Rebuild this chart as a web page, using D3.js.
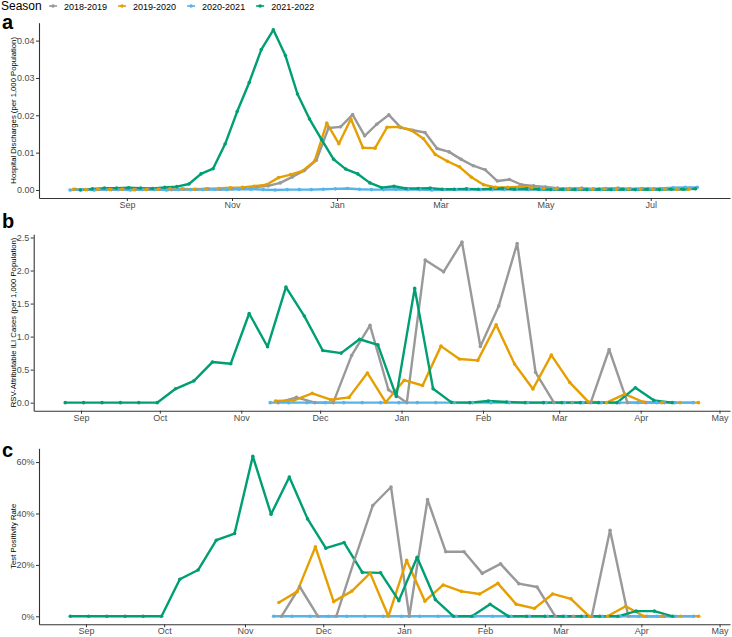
<!DOCTYPE html>
<html>
<head>
<meta charset="utf-8">
<script src="https://cdn.jsdelivr.net/npm/d3@7"></script>
<style>
  body { margin: 0; background: #fff; }
  svg { display: block; font-family: "Liberation Sans", Arial, sans-serif; }
</style>
</head>
<body>
<svg id="chart" width="732" height="637"></svg>
<script>
// seasons and colours (Okabe-Ito)
var seasons = ["2018-2019", "2019-2020", "2020-2021", "2021-2022"];
var colors = ["#999999", "#E69F00", "#56B4E9", "#009E73"];

// panel a: hospital discharges, weekly, dates mapped onto the 2019-2020 season
var hospStart = ["2019-08-02", "2019-08-01", "2019-07-30", "2019-08-05"];
var hosp1819 = [0.0002,0.0001,0.0002,0.0001,0.0002,0.0001,0.0002,0.0002,0.0001,0.0002,0.0002,0.0003,0.0002,0.0003,0.0004,
  0.0008,0.0011,0.0019,0.0035,0.0052,0.0080,0.0166,0.0169,0.0202,0.0145,0.0176,0.0201,0.0167,0.0160,0.0154,0.0111,
  0.0102,0.0082,0.0065,0.0054,0.0024,0.0028,0.0014,0.0011,0.0008,
  0.0005,0.0004,0.0005,0.0003,0.0004,0.0005,0.0003,0.0004,0.0003,0.0004,0.0003,0.0004];
var hosp1920 = [0.0002,0.0001,0.0002,0.0001,0.0002,0.0001,0.0001,0.0002,0.0003,0.0003,0.0002,0.0003,
  0.0004,0.0006,0.0007,0.0010,0.0014,0.0033,0.0041,0.0051,0.0078,0.0179,0.0124,0.0190,0.0113,0.0112,0.0168,
  0.0169,0.0160,0.0138,0.0095,0.0077,0.0062,0.0034,0.0014,0.0007,0.0007,0.0009,0.0006,
  0.0004,0.0003,0.0002,0.0003,0.0002,0.0003,0.0002,0.0003,0.0002,0.0002,0.0003,0.0002,0.0002];
var hosp2021 = [0.0000,0.0001,0.0000,0.0001,0.0001,0.0000,0.0001,0.0001,0.0000,0.0001,0.0001,0.0001,0.0002,0.0001,
  0.0002,0.0002,0.0001,0.0000,0.0001,0.0001,0.0001,0.0002,0.0003,0.0004,0.0002,0.0001,
  0.0001,0.0002,0.0001,0.0001,0.0000,0.0001,0.0001,0.0002,0.0001,0.0001,0.0001,0.0002,0.0001,0.0001,0.0002,
  0.0001,0.0001,0.0002,0.0001,0.0002,0.0001,0.0002,0.0003,0.0004,0.0006,0.0007,0.0007];
var hosp2122 = [0.0000,0.0003,0.0005,0.0005,0.0006,0.0005,0.0004,0.0007,0.0009,0.0016,0.0043,0.0057,0.0123,
  0.0210,0.0288,0.0376,0.0429,0.0360,0.0257,0.0190,0.0135,0.0082,0.0056,0.0043,0.0019,0.0006,0.0010,
  0.0004,0.0004,0.0005,0.0002,0.0002,0.0003,0.0002,0.0003,0.0004,0.0002,0.0003,0.0002,0.0001,0.0002,
  0.0001,0.0001,0.0002,0.0001,0.0002,0.0001,0.0002,0.0001,0.0002,0.0002,0.0003];

// panels b and c: weekly ILI surveillance
var iliStart = ["2019-11-15", "2019-11-14", "2019-11-12", "2019-08-26"];
var ili1819 = [0,0.08,0,0,0.715,1.17,0.196,0,2.16,1.98,2.43,0.85,1.465,2.41,0.46,0,0,0,0.805,0,0,0];
var ili1920 = [0.025,0.035,0.14,0.045,0.08,0.45,0.005,0.34,0.26,0.856,0.66,0.64,1.18,0.585,0.207,0.72,
  0.307,0.015,0,0.13,0.01,0,0,0];
var ili2021 = [0,0,0,0,0,0,0,0,0,0,0,0,0,0,0,0,0,0,0,0,0,0,0,0];
var ili2122 = [0,0,0,0,0,0,0.21,0.33,0.615,0.59,1.35,0.846,1.75,1.31,0.79,0.75,0.96,0.876,0.095,1.73,
  0.21,0.005,0,0.025,0.01,0,0,0,0,0,0,0.227,0.035,0];

var pos1819 = [0,0.115,0,0,0.22,0.431,0.503,0,0.454,0.251,0.251,0.167,0.204,0.127,0.114,0,0,0,0.335,0,0,0];
var pos1920 = [0.054,0.096,0.27,0.057,0.098,0.168,0,0.2175,0.059,0.122,0.097,0.087,0.128,0.047,0.031,
  0.087,0.068,0,0,0.039,0,0,0,0];
var pos2021 = [0,0,0,0,0,0,0,0,0,0,0,0,0,0,0,0,0,0,0,0,0,0,0,0];
var pos2122 = [0,0,0,0,0,0,0.144,0.18,0.296,0.322,0.6225,0.397,0.542,0.379,0.265,0.287,0.171,0.169,
  0.061,0.23,0.065,0,0,0.047,0,0,0,0,0,0,0,0.02,0.02,0];

var hospTicks = ["2019-09-01","2019-11-01","2020-01-01","2020-03-01","2020-05-01","2020-07-01"];
var monthTicks = ["2019-09-01","2019-10-01","2019-11-01","2019-12-01","2020-01-01","2020-02-01",
  "2020-03-01","2020-04-01","2020-05-01"];

var parse = d3.timeParse("%Y-%m-%d");

function weekly(start, values) {
  var s = parse(start);
  return values.map(function(v, i) { return { date: d3.timeDay.offset(s, 7 * i), v: v }; });
}

var panels = [
  {
    tag: "a", tagY: 29,
    title: "Hospital Discharges (per 1,000 Population)",
    xDomain: ["2019-07-12", "2020-08-16"], xRange: [39, 730], xTicks: hospTicks,
    yDomain: [-0.00215, 0.0448], yRange: [198, 22.7], yTicks: [0, 0.01, 0.02, 0.03, 0.04], yFmt: d3.format(".2f"),
    series: [hosp1819, hosp1920, hosp2021, hosp2122], starts: hospStart
  },
  {
    tag: "b", tagY: 228,
    title: "RSV-Attributable ILI Cases (per 1,000 Population)",
    xDomain: ["2019-08-14", "2020-05-05"], xRange: [33.7, 730], xTicks: monthTicks,
    yDomain: [-0.1215, 2.55], yRange: [410.7, 234.2], yTicks: [0, 0.5, 1, 1.5, 2, 2.5], yFmt: d3.format(".1f"),
    series: [ili1819, ili1920, ili2021, ili2122], starts: iliStart
  },
  {
    tag: "c", tagY: 457,
    title: "Test Positivity Rate",
    xDomain: ["2019-08-14", "2020-05-05"], xRange: [39, 730], xTicks: monthTicks,
    yDomain: [-0.0311, 0.6536], yRange: [624.3, 448.3], yTicks: [0, 0.2, 0.4, 0.6], yFmt: d3.format(".0%"),
    series: [pos1819, pos1920, pos2021, pos2122], starts: iliStart
  }
];

var svg = d3.select("#chart");

panels.forEach(function(p) {
  var x = d3.scaleTime().domain(p.xDomain.map(parse)).range(p.xRange);
  var y = d3.scaleLinear().domain(p.yDomain).range(p.yRange);
  var g = svg.append("g");

  var data = p.series.map(function(vals, k) { return weekly(p.starts[k], vals); });

  var line = d3.line()
    .x(function(d) { return x(d.date); })
    .y(function(d) { return y(d.v); });

  // lines first, then points (as ggplot layers them)
  g.selectAll(".series")
    .data(data)
    .enter().append("path")
      .attr("d", line)
      .attr("fill", "none")
      .attr("stroke", function(d, k) { return colors[k]; })
      .attr("stroke-width", 2.4)
      .attr("stroke-linejoin", "round");

  data.forEach(function(s, k) {
    g.selectAll(null)
      .data(s)
      .enter().append("circle")
        .attr("cx", function(d) { return x(d.date); })
        .attr("cy", function(d) { return y(d.v); })
        .attr("r", 1.8)
        .attr("fill", colors[k]);
  });

  var xAxis = g.append("g")
    .attr("transform", "translate(0," + p.yRange[0] + ")")
    .call(d3.axisBottom(x)
      .tickValues(p.xTicks.map(parse))
      .tickFormat(d3.timeFormat("%b"))
      .tickSize(3).tickSizeOuter(0).tickPadding(0.5));

  var yAxis = g.append("g")
    .attr("transform", "translate(" + p.xRange[0] + ",0)")
    .call(d3.axisLeft(y)
      .tickValues(p.yTicks)
      .tickFormat(p.yFmt)
      .tickSize(3).tickSizeOuter(0).tickPadding(1.5));

  [xAxis, yAxis].forEach(function(ax) {
    ax.select(".domain").attr("stroke", "#333").attr("stroke-width", 1.1);
    ax.selectAll(".tick line").attr("stroke", "#333").attr("stroke-width", 1);
    ax.selectAll(".tick text").attr("fill", "#4d4d4d").style("font-size", "9px");
  });

  g.append("text")
    .attr("transform", "translate(13," + (p.yRange[0] + p.yRange[1]) / 2 + ") rotate(-90)")
    .attr("text-anchor", "middle")
    .attr("dominant-baseline", "central")
    .style("font-size", "7.7px")
    .attr("fill", "#000")
    .text(p.title);

  svg.append("text")
    .attr("x", 2).attr("y", p.tagY)
    .style("font-size", "20px").style("font-weight", "bold")
    .text(p.tag);
});

// legend across the top
var legend = svg.append("g");
legend.append("text")
  .attr("x", 1).attr("y", 10)
  .style("font-size", "12px")
  .text("Season");

var lx = 49;
seasons.forEach(function(s, k) {
  var item = legend.append("g");
  item.append("line")
    .attr("x1", lx).attr("x2", lx + 8)
    .attr("y1", 6).attr("y2", 6)
    .attr("stroke", colors[k]).attr("stroke-width", 1.6);
  item.append("circle")
    .attr("cx", lx + 4).attr("cy", 6).attr("r", 1.8)
    .attr("fill", colors[k]);
  var t = item.append("text")
    .attr("x", lx + 15).attr("y", 9.5)
    .style("font-size", "9px")
    .text(s);
  lx += 15 + t.node().getComputedTextLength() + 11;
});
</script>
</body>
</html>
